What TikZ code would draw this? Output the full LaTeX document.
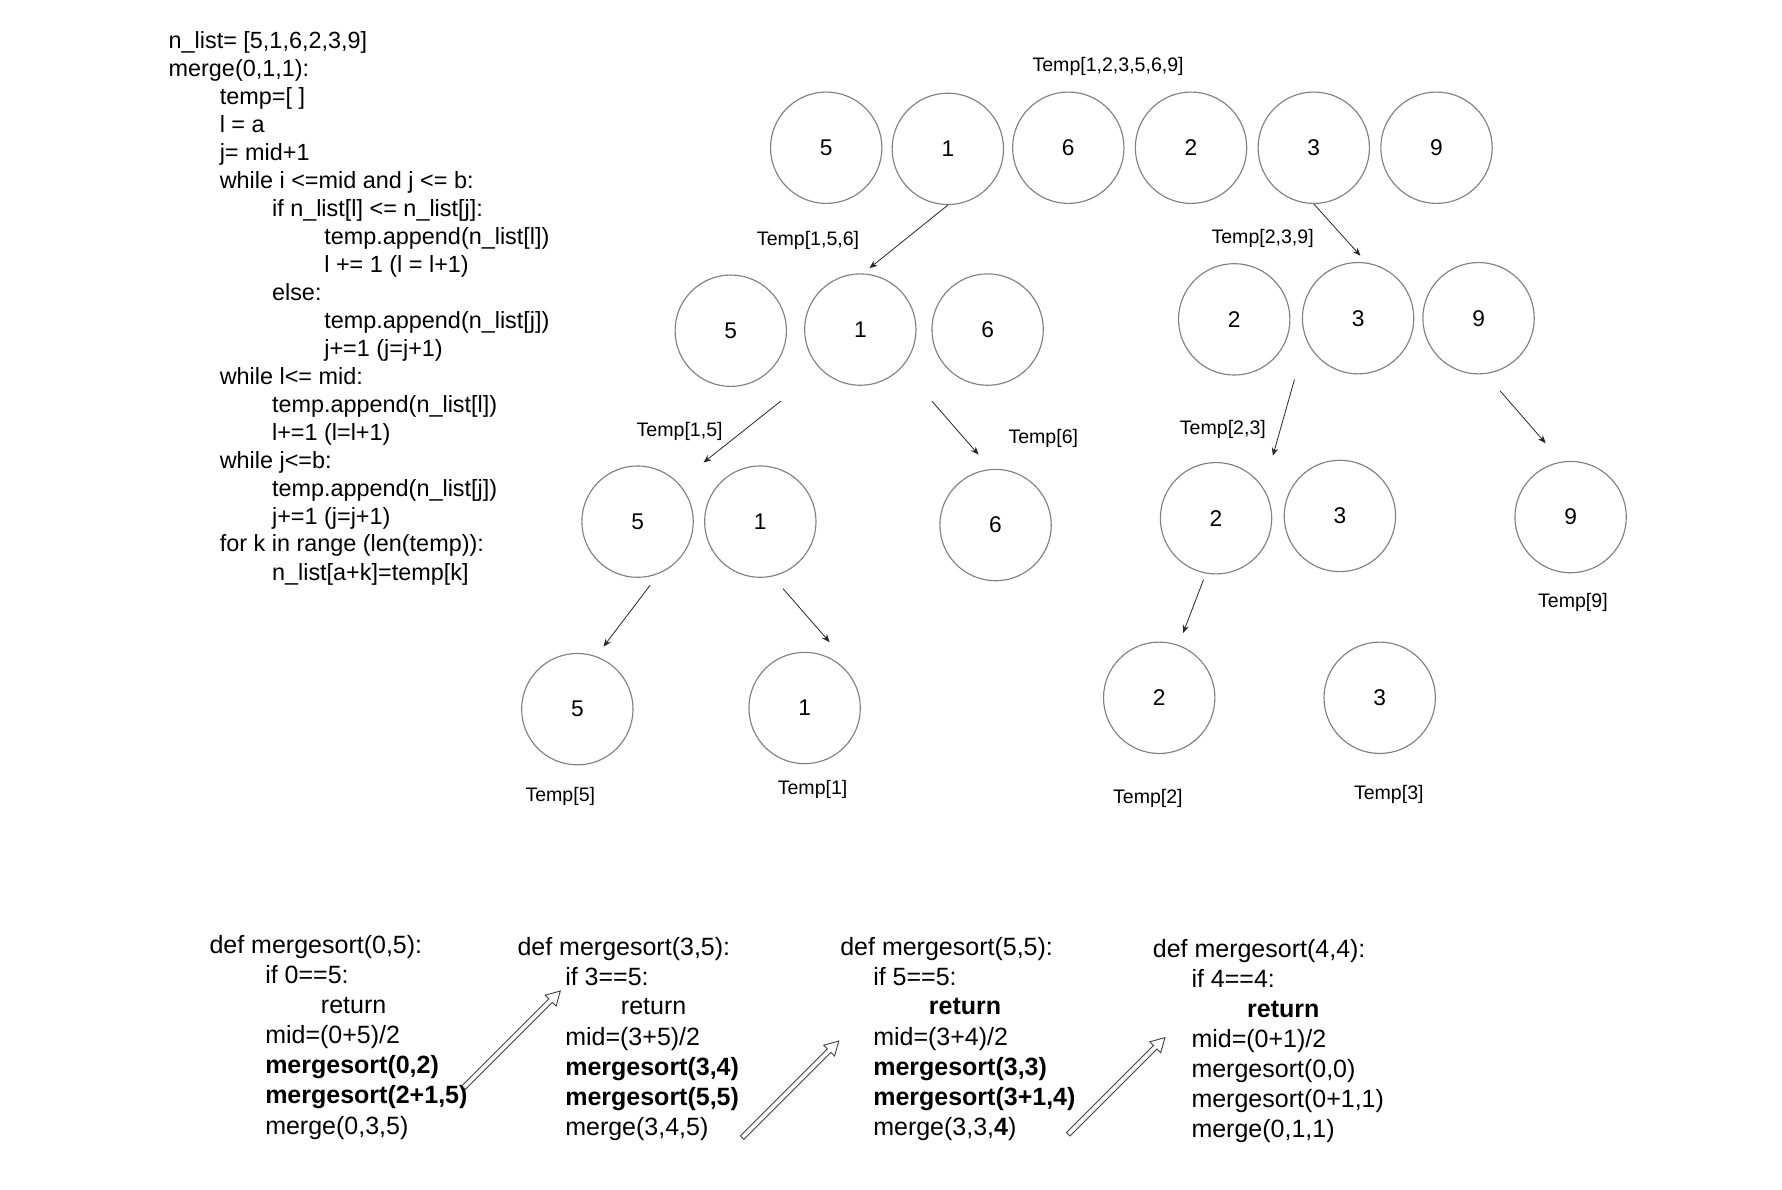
\documentclass[tikz,border=0pt]{standalone}
\usepackage{fontspec}
\setmainfont{Liberation Sans}
\usetikzlibrary{calc,arrows.meta}
\begin{document}
\begin{tikzpicture}[x=0.5pt,y=-0.5pt]
\tikzset{
  codeA/.style={font=\fontsize{10.3}{12}\selectfont, anchor=west, inner sep=0pt, text height=7.4pt, text depth=0pt},
  codeB/.style={font=\fontsize{11}{13}\selectfont, anchor=west, inner sep=0pt, text height=7.9pt, text depth=0pt},
  tlabel/.style={font=\fontsize{8.6}{10}\selectfont, inner sep=0pt, text height=6.2pt, text depth=0pt},
  numc/.style={circle, draw=black!50, line width=0.5pt, minimum size=49pt, inner sep=0pt, font=\fontsize{10}{12}\selectfont},
  thinarrow/.style={draw=black!85, line width=0.35pt, -{Stealth[length=3.5pt,width=2.8pt]}},
  flexbody/.style={draw=black!75, line width=0.4pt, fill=white, line join=miter},
}
\newcommand{\flexarr}[2]{%
  \coordinate (#1-h) at ($(#2)!6pt!(#1)$);
  \draw[flexbody] ($(#1)!1.1pt!90:(#2)$) -- ($(#1-h)!1.1pt!90:(#2)$) -- ($(#1-h)!3.4pt!90:(#2)$) -- (#2)
    -- ($(#1-h)!3.4pt!-90:(#2)$) -- ($(#1-h)!1.1pt!-90:(#2)$) -- ($(#1)!1.1pt!-90:(#2)$) -- cycle;
}
\useasboundingbox[fill=white] (0,0) rectangle (1568,1047);

% ---------- code block ----------
\node[codeA] (k0)  at (148,35.0)  {n\_list= [5,1,6,2,3,9]};
\node[codeA] (k1)  at (148,59.6)  {merge(0,1,1):};
\node[codeA] (k2)  at (193,84.3)  {temp=[ ]};
\node[codeA] (k3)  at (193,108.9) {l = a};
\node[codeA] (k4)  at (193,133.5) {j= mid+1};
\node[codeA] (k5)  at (193,158.2) {while i <=mid and j <= b:};
\node[codeA] (k6)  at (239,182.8) {if n\_list[l] <= n\_list[j]:};
\node[codeA] (k7)  at (285,207.4) {temp.append(n\_list[l])};
\node[codeA] (k8)  at (285,232.0) {l += 1 (l = l+1)};
\node[codeA] (k9)  at (239,256.7) {else:};
\node[codeA] (k10) at (285,281.3) {temp.append(n\_list[j])};
\node[codeA] (k11) at (285,305.9) {j+=1 (j=j+1)};
\node[codeA] (k12) at (193,330.6) {while l<= mid:};
\node[codeA] (k13) at (239,355.2) {temp.append(n\_list[l])};
\node[codeA] (k14) at (239,379.8) {l+=1 (l=l+1)};
\node[codeA] (k15) at (193,404.5) {while j<=b:};
\node[codeA] (k16) at (239,429.1) {temp.append(n\_list[j])};
\node[codeA] (k17) at (239,453.7) {j+=1 (j=j+1)};
\node[codeA] (k18) at (193,478.3) {for k in range (len(temp)):};
\node[codeA] (k19) at (239,503.0) {n\_list[a+k]=temp[k]};

% ---------- circles ----------
\node[numc] (r0a) at (727,130) {5};
\node[numc] (r0b) at (834,131) {1};
\node[numc] (r0c) at (940,130) {6};
\node[numc] (r0d) at (1048,130) {2};
\node[numc] (r0e) at (1156,130) {3};
\node[numc] (r0f) at (1264,130) {9};

\node[numc] (r1a) at (643,291) {5};
\node[numc] (r1b) at (757,290) {1};
\node[numc] (r1c) at (869,290) {6};
\node[numc] (r1d) at (1086,281) {2};
\node[numc] (r1e) at (1195,280) {3};
\node[numc] (r1f) at (1301,280) {9};

\node[numc] (r2a) at (561,459) {5};
\node[numc] (r2b) at (669,459) {1};
\node[numc] (r2c) at (876,462) {6};
\node[numc] (r2d) at (1070,456) {2};
\node[numc] (r2e) at (1179,454) {3};
\node[numc] (r2f) at (1382,455) {9};

\node[numc] (r3a) at (508,624) {5};
\node[numc] (r3b) at (708,623) {1};
\node[numc] (r3c) at (1020,614) {2};
\node[numc] (r3d) at (1214,614) {3};

% ---------- labels ----------
\node[tlabel] (t0)  at (975,57)   {Temp[1,2,3,5,6,9]};
\node[tlabel] (t1)  at (711,210)  {Temp[1,5,6]};
\node[tlabel] (t2)  at (1111,208) {Temp[2,3,9]};
\node[tlabel] (t3)  at (598,378)  {Temp[1,5]};
\node[tlabel] (t4)  at (918,384)  {Temp[6]};
\node[tlabel] (t5)  at (1076,376) {Temp[2,3]};
\node[tlabel] (t6)  at (1384,528) {Temp[9]};
\node[tlabel] (t7)  at (493,699)  {Temp[5]};
\node[tlabel] (t8)  at (715,693)  {Temp[1]};
\node[tlabel] (t9)  at (1010,701) {Temp[2]};
\node[tlabel] (t10) at (1222,697) {Temp[3]};

% ---------- thin arrows ----------
\coordinate (e1) at (765,236);
\coordinate (e2) at (1197,225);
\coordinate (s3) at (687,353);  \coordinate (e3) at (619,407);
\coordinate (s4) at (820,353);  \coordinate (e4) at (861,400);
\coordinate (s5) at (1139,334); \coordinate (e5) at (1120,401);
\coordinate (s6) at (1320,344); \coordinate (e6) at (1360,390);
\coordinate (s7) at (572,515);  \coordinate (e7) at (531,569);
\coordinate (s8) at (689,518);  \coordinate (e8) at (730,565);
\coordinate (s9) at (1059,510); \coordinate (e9) at (1041,557);
\draw[thinarrow] (r0b.south) -- (e1);
\draw[thinarrow] (r0e.south) -- (e2);
\draw[thinarrow] (s3) -- (e3);
\draw[thinarrow] (s4) -- (e4);
\draw[thinarrow] (s5) -- (e5);
\draw[thinarrow] (s6) -- (e6);
\draw[thinarrow] (s7) -- (e7);
\draw[thinarrow] (s8) -- (e8);
\draw[thinarrow] (s9) -- (e9);

% ---------- bottom code blocks ----------
\node[codeB] (b1a) at (184,831)   {def mergesort(0,5):};
\node[codeB] (b1b) at (233,857.5) {if 0==5:};
\node[codeB] (b1c) at (282,884)   {return};
\node[codeB] (b1d) at (233,910.5) {mid=(0+5)/2};
\node[codeB] (b1e) at (233,937)   {\textbf{mergesort(0,2)}};
\node[codeB] (b1f) at (233,963.5) {\textbf{mergesort(2+1,5)}};
\node[codeB] (b1g) at (233,990)   {merge(0,3,5)};

\node[codeB] (b2a) at (455,833) {def mergesort(3,5):};
\node[codeB] (b2b) at (497,859) {if 3==5:};
\node[codeB] (b2c) at (546,885) {return};
\node[codeB] (b2d) at (497,912) {mid=(3+5)/2};
\node[codeB] (b2e) at (497,938) {\textbf{mergesort(3,4)}};
\node[codeB] (b2f) at (497,965) {\textbf{mergesort(5,5)}};
\node[codeB] (b2g) at (497,991) {merge(3,4,5)};

\node[codeB] (b3a) at (739,833) {def mergesort(5,5):};
\node[codeB] (b3b) at (768,859) {if 5==5:};
\node[codeB] (b3c) at (817,885) {\textbf{return}};
\node[codeB] (b3d) at (768,912) {mid=(3+4)/2};
\node[codeB] (b3e) at (768,938) {\textbf{mergesort(3,3)}};
\node[codeB] (b3f) at (768,965) {\textbf{mergesort(3+1,4)}};
\node[codeB] (b3g) at (768,991) {merge(3,3,\textbf{4})};

\node[codeB] (b4a) at (1014,835) {def mergesort(4,4):};
\node[codeB] (b4b) at (1048,861) {if 4==4:};
\node[codeB] (b4c) at (1097,887) {\textbf{return}};
\node[codeB] (b4d) at (1048,914) {mid=(0+1)/2};
\node[codeB] (b4e) at (1048,940) {mergesort(0,0)};
\node[codeB] (b4f) at (1048,967) {mergesort(0+1,1)};
\node[codeB] (b4g) at (1048,993) {merge(0,1,1)};

% ---------- flex arrows ----------
\coordinate (fa1) at (408,957);  \coordinate (fb1) at (493,872);
\coordinate (fa2) at (653,1001); \coordinate (fb2) at (738,916);
\coordinate (fa3) at (940,998);  \coordinate (fb3) at (1025,913);
\flexarr{fa1}{fb1}
\flexarr{fa2}{fb2}
\flexarr{fa3}{fb3}
\end{tikzpicture}
\end{document}
